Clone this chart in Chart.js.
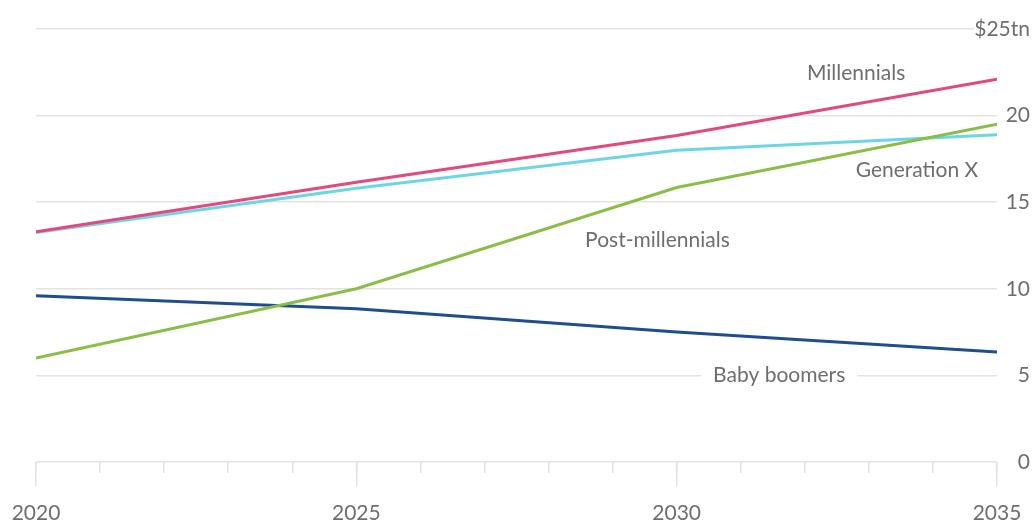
<!DOCTYPE html>
<html>
<head>
<meta charset="utf-8">
<script src="https://cdn.jsdelivr.net/npm/chart.js@4"></script>
<style>
  html, body { margin: 0; padding: 0; background: #ffffff; }
  #wrap { width: 1036px; height: 526px; position: relative; }
</style>
</head>
<body>
<div id="wrap"><canvas id="chart"></canvas></div>
<script>
// Wealth held by each generation, $tn
const years = [2020, 2025, 2030, 2035];
const millennials = [13.3, 16.15, 18.85, 22.1];
const generationX = [13.25, 15.8, 18.0, 18.9];
const postMillennials = [6.0, 10.0, 15.85, 19.5];
const babyBoomers = [9.6, 8.85, 7.5, 6.35];

const seriesNames = ['Millennials', 'Generation X', 'Post-millennials', 'Baby boomers'];
const yTickValues = [0, 5, 10, 15, 20, 25];
const yTickLabels = ['0', '5', '10', '15', '20', '$25tn'];
const xLabelYears = [2020, 2025, 2030, 2035];

const FONT_FAMILY = 'Lato, "Open Sans", sans-serif';
const FONT_SIZE = 21;
const TEXT_COLOR = '#6e6e6e';
const GRID_COLOR = '#e6e3df';
const Y_AXIS_WIDTH = 33;

const toPoints = vals => years.map((y, i) => ({ x: y, y: vals[i] }));

// series name labels placed in data units
const seriesLabels = {
  id: 'seriesLabels',
  afterDatasetsDraw(chart, args, opts) {
    const { ctx, scales: { x, y } } = chart;
    ctx.save();
    ctx.font = 'normal ' + FONT_SIZE + 'px ' + FONT_FAMILY;
    ctx.textAlign = 'center';
    ctx.textBaseline = 'middle';
    opts.items.forEach(item => {
      const px = x.getPixelForValue(item.year);
      const py = y.getPixelForValue(item.value);
      if (item.knockout) {
        const w = ctx.measureText(item.text).width;
        ctx.fillStyle = '#ffffff';
        ctx.fillRect(px - w / 2 - 12, py - 8, w + 24, 16);
      }
      ctx.fillStyle = TEXT_COLOR;
      ctx.fillText(item.text, px, py);
    });
    ctx.restore();
  }
};

const line = (label, data, color) => ({
  label,
  data: toPoints(data),
  borderColor: color,
  backgroundColor: color,
  borderWidth: 3,
  pointRadius: 0,
  tension: 0,
  fill: false
});

// keep the plot edges where the layout padding puts them
const noEdgePadding = scale => {
  scale.paddingLeft = 0;
  scale.paddingRight = 0;
  scale.paddingTop = 0;
  scale.paddingBottom = 0;
};

new Chart(document.getElementById('chart'), {
  type: 'line',
  data: {
    datasets: [
      line(seriesNames[0], millennials, '#e3497c'),
      line(seriesNames[2], postMillennials, '#8dbd49'),
      line(seriesNames[1], generationX, '#6dd6e6'),
      line(seriesNames[3], babyBoomers, '#1f4d8e')
    ]
  },
  options: {
    responsive: true,
    maintainAspectRatio: false,
    animation: false,
    layout: { padding: { left: 36, right: 6, top: 29, bottom: 0 } },
    plugins: {
      legend: { display: false },
      tooltip: { enabled: false },
      seriesLabels: {
        items: [
          { text: seriesNames[0], year: 2032.8, value: 22.45 },
          { text: seriesNames[1], year: 2033.75, value: 16.85 },
          { text: seriesNames[2], year: 2029.7, value: 12.8 },
          { text: seriesNames[3], year: 2031.6, value: 5, knockout: true }
        ]
      }
    },
    scales: {
      // yearly minor tick marks, sitting right on the baseline
      xMinor: {
        type: 'linear',
        position: 'bottom',
        min: 2020,
        max: 2035,
        border: { display: false },
        grid: {
          drawOnChartArea: false,
          drawTicks: true,
          tickLength: 11,
          color: GRID_COLOR,
          lineWidth: 1.5
        },
        ticks: { stepSize: 1, autoSkip: false, display: false },
        afterFit: scale => { scale.height = 0; noEdgePadding(scale); }
      },
      // five-year ticks with labels
      x: {
        type: 'linear',
        position: 'bottom',
        min: 2020,
        max: 2035,
        border: { display: false },
        grid: {
          drawOnChartArea: false,
          drawTicks: true,
          tickLength: 24,
          color: GRID_COLOR,
          lineWidth: 1.5
        },
        afterBuildTicks: scale => { scale.ticks = xLabelYears.map(v => ({ value: v })); },
        afterFit: scale => { scale.height = 64; noEdgePadding(scale); },
        ticks: {
          autoSkip: false,
          maxRotation: 0,
          padding: 15,
          color: TEXT_COLOR,
          font: { family: FONT_FAMILY, size: FONT_SIZE },
          callback: v => String(v)
        }
      },
      y: {
        position: 'right',
        min: 0,
        max: 25,
        border: { display: false },
        grid: { drawTicks: false, color: GRID_COLOR, lineWidth: 1.5 },
        afterBuildTicks: scale => { scale.ticks = yTickValues.map(v => ({ value: v })); },
        afterFit: scale => { scale.width = Y_AXIS_WIDTH; noEdgePadding(scale); },
        ticks: {
          mirror: true,
          crossAlign: 'near',
          padding: Y_AXIS_WIDTH,
          color: TEXT_COLOR,
          font: { family: FONT_FAMILY, size: FONT_SIZE },
          showLabelBackdrop: true,
          backdropColor: '#ffffff',
          backdropPadding: c => (c.index === yTickValues.length - 1
            ? { left: 20, right: 2, top: 2, bottom: 2 }
            : { left: 6, right: 2, top: 2, bottom: 2 }),
          callback: v => yTickLabels[yTickValues.indexOf(v)]
        }
      }
    }
  },
  plugins: [seriesLabels]
});
</script>
</body>
</html>
